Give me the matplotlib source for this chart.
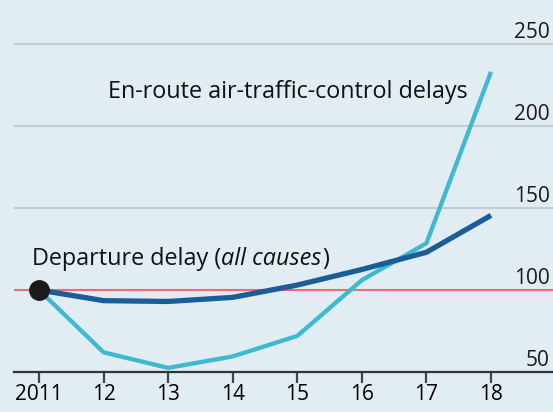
import matplotlib
matplotlib.use("Agg")
import matplotlib.pyplot as plt
import matplotlib.transforms as mtransforms

# данные
years = [2011, 2012, 2013, 2014, 2015, 2016, 2017, 2018]
year_labels = ["2011", "12", "13", "14", "15", "16", "17", "18"]
departure = [100, 93.5, 93, 95.5, 103, 112.5, 123, 145.5]
en_route = [100, 62, 52.5, 59.5, 72, 106, 128.5, 233]
y_ticks = [50, 100, 150, 200, 250]

bg = "#e2ecf3"
grid_col = "#c3ccd3"
dark_blue = "#1b5d97"
light_blue = "#3dbad0"
red = "#e8706c"
fs = 16.8     # подписи
fs_num = 15   # числа на осях

plt.rcParams['font.family'] = ['Open Sans', 'DejaVu Sans']

fig = plt.figure(figsize=(5.53, 4.12), dpi=100)
fig.patch.set_facecolor(bg)
ax = fig.add_axes([14 / 553, 40 / 412, 1 - 14 / 553, 1 - 40 / 412])
ax.set_facecolor(bg)

ax.set_xlim(2010.613, 2018.96)
ax.set_ylim(50, 276.8)

# сетка
for v in y_ticks[1:]:
    if v != 100:
        ax.axhline(v, color=grid_col, lw=1.5, zorder=1)
ax.axhline(100, color=red, lw=1.5, zorder=2)

ax.plot(years, en_route, color=light_blue, lw=3.1, zorder=3, solid_capstyle='butt')
ax.plot(years, departure, color=dark_blue, lw=3.8, zorder=4, solid_capstyle='butt')
ax.plot([years[0]], [100], 'o', color='#1a1a1a', ms=14, zorder=5)

for sp in ['top', 'right', 'left']:
    ax.spines[sp].set_visible(False)
ax.spines['bottom'].set_color('#333333')
ax.spines['bottom'].set_linewidth(1.6)

ax.set_xticks(years)
ax.set_xticklabels(year_labels, fontsize=fs_num)
ax.tick_params(axis='x', length=8, width=1.6, color='#444444', pad=1)
ax.set_yticks([])

# подписи справа
trans = mtransforms.blended_transform_factory(ax.transAxes, ax.transData)
for v in y_ticks:
    ax.text(0.994, v + 3.5, str(v), transform=trans, ha='right', va='baseline',
            fontsize=fs_num, color='#1a1a1a')

ax.text(2017.64, 217, "En-route air-traffic-control delays",
        ha='right', va='baseline', fontsize=fs, color='#111111')

# Departure delay (all causes) - курсив посередине
t = ax.text(2010.89, 115.2, "Departure delay (", ha='left', va='baseline',
            fontsize=fs, color='#111111')
fig.canvas.draw()
x1 = ax.transData.inverted().transform((t.get_window_extent().x1, 0))[0]
t2 = ax.text(x1, 115.2, "all causes", ha='left', va='baseline', fontsize=fs,
             style='italic', color='#111111')
fig.canvas.draw()
x2 = ax.transData.inverted().transform((t2.get_window_extent().x1 + 1, 0))[0]
ax.text(x2, 115.2, ")", ha='left', va='baseline', fontsize=fs, color='#111111')

fig.savefig("out.png", dpi=100, facecolor=bg)
